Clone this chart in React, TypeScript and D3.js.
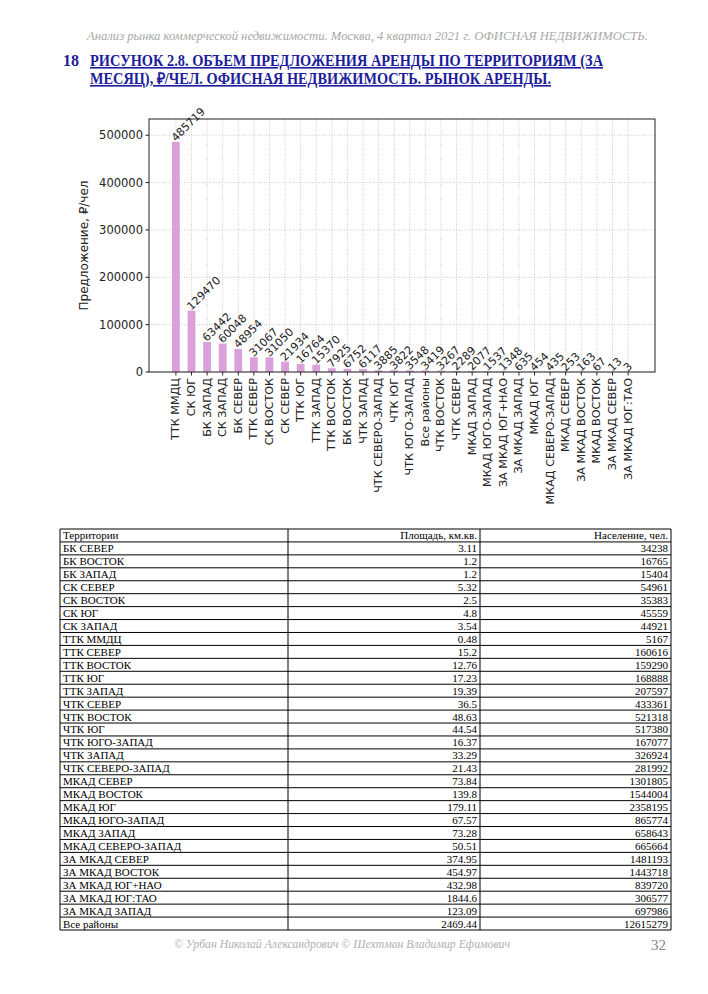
import React from "react";
import * as d3 from "d3";

const categories = [
  "ТТК ММДЦ", "СК ЮГ", "БК ЗАПАД", "СК ЗАПАД", "БК СЕВЕР", "ТТК СЕВЕР", "СК ВОСТОК", "СК СЕВЕР",
  "ТТК ЮГ", "ТТК ЗАПАД", "ТТК ВОСТОК", "БК ВОСТОК", "ЧТК ЗАПАД", "ЧТК СЕВЕРО-ЗАПАД", "ЧТК ЮГ",
  "ЧТК ЮГО-ЗАПАД", "Все районы", "ЧТК ВОСТОК", "ЧТК СЕВЕР", "МКАД ЗАПАД", "МКАД ЮГО-ЗАПАД",
  "ЗА МКАД ЮГ+НАО", "ЗА МКАД ЗАПАД", "МКАД ЮГ", "МКАД СЕВЕРО-ЗАПАД", "МКАД СЕВЕР",
  "ЗА МКАД ВОСТОК", "МКАД ВОСТОК", "ЗА МКАД СЕВЕР", "ЗА МКАД ЮГ:ТАО",
];
const values = [
  485719, 129470, 63442, 60048, 48954, 31067, 31050, 21934, 16764, 15370, 7925, 6752, 6117, 3885, 3822,
  3548, 3419, 3267, 2289, 2077, 1537, 1348, 635, 454, 435, 253, 163, 67, 13, 3,
];
const yTicks = [0, 100000, 200000, 300000, 400000, 500000];
const yLabel = "Предложение, ₽/чел";

const tableHeader = ["Территории", "Площадь, км.кв.", "Население, чел."];
const territories = [
  "БК СЕВЕР", "БК ВОСТОК", "БК ЗАПАД", "СК СЕВЕР", "СК ВОСТОК", "СК ЮГ", "СК ЗАПАД", "ТТК ММДЦ",
  "ТТК СЕВЕР", "ТТК ВОСТОК", "ТТК ЮГ", "ТТК ЗАПАД", "ЧТК СЕВЕР", "ЧТК ВОСТОК", "ЧТК ЮГ", "ЧТК ЮГО-ЗАПАД",
  "ЧТК ЗАПАД", "ЧТК СЕВЕРО-ЗАПАД", "МКАД СЕВЕР", "МКАД ВОСТОК", "МКАД ЮГ", "МКАД ЮГО-ЗАПАД", "МКАД ЗАПАД",
  "МКАД СЕВЕРО-ЗАПАД", "ЗА МКАД СЕВЕР", "ЗА МКАД ВОСТОК", "ЗА МКАД ЮГ+НАО", "ЗА МКАД ЮГ:ТАО",
  "ЗА МКАД ЗАПАД", "Все районы",
];
const areas = [
  "3.11", "1.2", "1.2", "5.32", "2.5", "4.8", "3.54", "0.48", "15.2", "12.76", "17.23", "19.39", "36.5",
  "48.63", "44.54", "16.37", "33.29", "21.43", "73.84", "139.8", "179.11", "67.57", "73.28", "50.51",
  "374.95", "454.97", "432.98", "1844.6", "123.09", "2469.44",
];
const population = [
  "34238", "16765", "15404", "54961", "35383", "45559", "44921", "5167", "160616", "159290", "168888",
  "207597", "433361", "521318", "517380", "167077", "326924", "281992", "1301805", "1544004", "2358195",
  "865774", "658643", "665664", "1481193", "1443718", "839720", "306577", "697986", "12615279",
];

const headerText = "Анализ рынка коммерческой недвижимости.  Москва,  4 квартал 2021 г.  ОФИСНАЯ НЕДВИЖИМОСТЬ.";
const titleNum = "18";
const titleLine1 = "РИСУНОК 2.8. ОБЪЕМ ПРЕДЛОЖЕНИЯ АРЕНДЫ ПО ТЕРРИТОРИЯМ (ЗА";
const titleLine2 = "МЕСЯЦ), ₽/ЧЕЛ. ОФИСНАЯ НЕДВИЖИМОСТЬ. РЫНОК АРЕНДЫ.";
const footerText = "© Урбан Николай Александрович   © Шехтман Владимир Ефимович";
const pageNum = "32";

export default function App() {
  const W = 708, H = 994;
  const plot = { left: 149, right: 655, top: 119, bottom: 372 };
  const barW = 0.5;
  const n = values.length;
  const pad = (n - 1 + barW) * 0.05;
  const x = d3.scaleLinear().domain([-barW / 2 - pad, n - 1 + barW / 2 + pad]).range([plot.left, plot.right]);
  const yMax = (d3.max(values) as number) * 1.1;
  const y = d3.scaleLinear().domain([0, yMax]).range([plot.bottom, plot.top]);
  const bw = x(barW) - x(0);

  const chartFont = "DejaVu Sans, sans-serif";
  const serif = "Liberation Serif, Times New Roman, serif";

  // table
  const tLeft = 60, tRight = 671, c1 = 288, c2 = 480;
  const tTop = 529, tBottom = 930;
  const rows = [tableHeader, ...territories.map((t, i) => [t, areas[i], population[i]])];
  const rh = (tBottom - tTop) / rows.length;

  return (
    <svg width={W} height={H} style={{ position: "absolute", left: 0, top: 0, background: "#fff" }}>
      <rect x={0} y={0} width={W} height={H} fill="#fff" />
      {/* header */}
      <text x={648} y={40} textAnchor="end" fontFamily={serif} fontStyle="italic" fontSize={12.5} fill="#a8a8a8"
        textLength={561} lengthAdjust="spacingAndGlyphs">{headerText}</text>
      {/* title */}
      <g fontFamily={serif} fontWeight="bold" fontSize={16} fill="#1c1c9c">
        <text x={63} y={66}>{titleNum}</text>
        <text x={90} y={66} textDecoration="underline" textLength={513} lengthAdjust="spacingAndGlyphs">{titleLine1}</text>
        <text x={90} y={84} textDecoration="underline" textLength={461} lengthAdjust="spacingAndGlyphs">{titleLine2}</text>
      </g>

      {/* grid */}
      <g stroke="#bdbdbd" strokeWidth={0.8} strokeDasharray="1,1.5">
        {yTicks.map((t) => (
          <line key={"gy" + t} x1={plot.left} x2={plot.right} y1={y(t)} y2={y(t)} />
        ))}
        {values.map((_, i) => (
          <line key={"gx" + i} x1={x(i)} x2={x(i)} y1={plot.top} y2={plot.bottom} />
        ))}
      </g>
      {/* bars */}
      {values.map((v, i) => (
        <rect key={"b" + i} x={x(i) - bw / 2} y={y(v)} width={bw} height={y(0) - y(v)} fill="#d9a0da" />
      ))}
      {/* frame */}
      <rect x={plot.left} y={plot.top} width={plot.right - plot.left} height={plot.bottom - plot.top}
        fill="none" stroke="#222" strokeWidth={1} />
      {/* y axis */}
      <g fontFamily={chartFont} fontSize={11.5} fill="#222">
        {yTicks.map((t) => (
          <g key={"yt" + t}>
            <line x1={plot.left - 3.5} x2={plot.left} y1={y(t)} y2={y(t)} stroke="#222" />
            <text x={plot.left - 6} y={y(t)} textAnchor="end" dominantBaseline="central">{t}</text>
          </g>
        ))}
        <text transform={`translate(84,${(plot.top + plot.bottom) / 2 + 0}) rotate(-90)`} textAnchor="middle"
          dominantBaseline="central" fontSize={12}>{yLabel}</text>
      </g>
      {/* x axis */}
      <g fontFamily={chartFont} fontSize={11.2} fill="#222">
        {categories.map((c, i) => (
          <g key={"xt" + i}>
            <line x1={x(i)} x2={x(i)} y1={plot.bottom} y2={plot.bottom + 3.5} stroke="#222" />
            <text transform={`translate(${x(i)},${plot.bottom + 6}) rotate(-90)`} textAnchor="end"
              dominantBaseline="central">{c}</text>
          </g>
        ))}
      </g>
      {/* value labels */}
      <g fontFamily={chartFont} fontSize={11} fill="#222">
        {values.map((v, i) => (
          <text key={"v" + i} transform={`translate(${x(i)},${y(v)}) rotate(-45)`} textAnchor="start">{v}</text>
        ))}
      </g>

      {/* table */}
      <g fontFamily={serif} fontSize={11} fill="#000">
        {rows.map((r, i) => {
          const yb = tTop + (i + 1) * rh;
          return (
            <g key={"r" + i}>
              <text x={tLeft + 3} y={yb - 2.5}>{r[0]}</text>
              <text x={c2 - 3} y={yb - 2.5} textAnchor="end">{r[1]}</text>
              <text x={tRight - 3} y={yb - 2.5} textAnchor="end">{r[2]}</text>
            </g>
          );
        })}
        <g stroke="#000" strokeWidth={1}>
          {d3.range(rows.length + 1).map((i) => (
            <line key={"hl" + i} x1={tLeft} x2={tRight} y1={tTop + i * rh} y2={tTop + i * rh} />
          ))}
          {[tLeft, c1, c2, tRight].map((cx) => (
            <line key={"vl" + cx} x1={cx} x2={cx} y1={tTop} y2={tBottom} />
          ))}
        </g>
      </g>

      {/* footer */}
      <text x={342} y={948} textAnchor="middle" fontFamily={serif} fontStyle="italic" fontSize={13} fill="#b0b0b0"
        textLength={336} lengthAdjust="spacingAndGlyphs">{footerText}</text>
      <text x={666} y={950} textAnchor="end" fontFamily={serif} fontSize={15} fill="#888">{pageNum}</text>
    </svg>
  );
}
